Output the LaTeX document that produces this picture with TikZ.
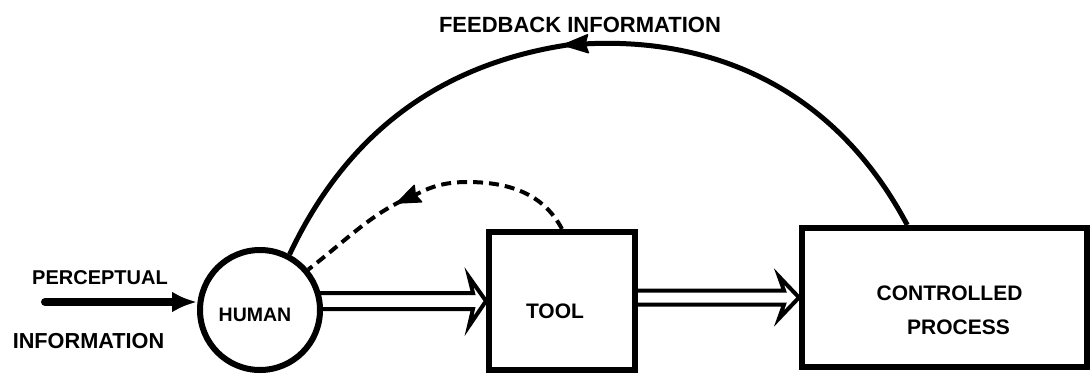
\documentclass[tikz,border=0pt]{standalone}
\usepackage{fontspec}
\setmainfont{Liberation Sans}
\usetikzlibrary{arrows.meta,calc}
\begin{document}
\begin{tikzpicture}[x=1pt,y=-1pt,
  lbl/.style={inner sep=0pt, font=\fontsize{21}{25}\selectfont\bfseries},
  boxstyle/.style={draw, line width=6pt, inner sep=0pt},
  flow/.style={line width=4pt, line join=miter},
  fb/.style={line width=5pt},
  dsh/.style={line width=4pt, dash pattern=on 10pt off 6pt},
  headfill/.style={fill=black, draw=black, line width=1.5pt, line join=round}]
\useasboundingbox (0,0) rectangle (1092,375);
% nodes
\node[draw, circle, line width=6pt, minimum size=120pt, inner sep=0pt] (human) at (260,310) {};
\node[boxstyle, minimum width=146pt, minimum height=138pt] (tool) at (562,301) {};
\node[boxstyle, minimum width=285pt, minimum height=139pt] (cp) at (944.5,297.5) {};
% labels
\node[lbl, font=\fontsize{19.5}{24}\selectfont\bfseries] (lhuman) at (255,314.5) {HUMAN};
\node[lbl] (ltool) at (555,311.5) {TOOL};
\node[lbl] (lcp1) at (949.5,293.5) {CONTROLLED};
\node[lbl] (lcp2) at (958.5,327.5) {PROCESS};
\node[lbl, font=\fontsize{20}{24}\selectfont\bfseries] (lperc) at (100,277.5) {PERCEPTUAL};
\node[lbl, font=\fontsize{21.7}{26}\selectfont\bfseries] (linfo) at (88.5,341.5) {INFORMATION};
\node[lbl, font=\fontsize{22}{26}\selectfont\bfseries] (lfeed) at (580,25) {FEEDBACK INFORMATION};
% perceptual input
\coordinate (pin) at (45,302);
\draw[line width=8pt, line cap=round, -{Latex[length=25pt,width=21pt]}] (pin) -- (pin -| human.west);
% hollow arrow human -> tool
\coordinate (a1t) at ($(tool.west)+(-13,-8)$);
\coordinate (a1b) at ($(tool.west)+(-13,8)$);
\draw[flow] ($(human.center)+(57.5,-17)$) -- (a1t) -- ($(tool.west)+(-17,-24)$) -- (tool.west)
  -- ($(tool.west)+(-17,25)$) -- (a1b) -- ($(human.center)+(60,-1)$);
% hollow arrow tool -> controlled process
\coordinate (a2t) at ($(cp.west)+(-15,-7)$);
\coordinate (a2b) at ($(cp.west)+(-15,7)$);
\draw[flow] (tool.east |- a2t) -- (a2t) -- ($(cp.west)+(-20,-21)$) -- (cp.west)
  -- ($(cp.west)+(-20,21)$) -- (a2b) -- (tool.east |- a2b);
% feedback arc
\coordinate (fbtip) at (563,45);
\coordinate (fbnotch) at (585,43.9);
\coordinate (fbstart) at (570,44.6);
\draw[fb] ($(cp.north west)!0.372!(cp.north east)$) .. controls +(-71,-134) and +(132,-7) .. (fbnotch);
\draw[fb] (fbstart) .. controls +(-130,19) and +(57,-121) .. (human.62);
\draw[headfill] (fbtip) -- (587.5,34.8) -- (fbnotch) -- (588.4,52.7) -- cycle;
% dashed tool feedback
\coordinate (dpeak) at (467,182);
\coordinate (dtip) at (397,203);
\coordinate (dnotch) at (415.2,194.8);
\coordinate (dstart) at (402.5,200.5);
\draw[dsh] (tool.north) .. controls +(-19,-36) and +(41,0) .. (dpeak)
  .. controls +(-30,0) and +(8,-3.5) .. (dnotch);
\draw[dsh] (dstart) .. controls +(-34,16) and +(34,-26) .. (human.40);
\draw[headfill] (dtip) -- (414.2,185.4) -- (dnotch) -- (421.6,201.8) -- cycle;
\end{tikzpicture}
\end{document}
